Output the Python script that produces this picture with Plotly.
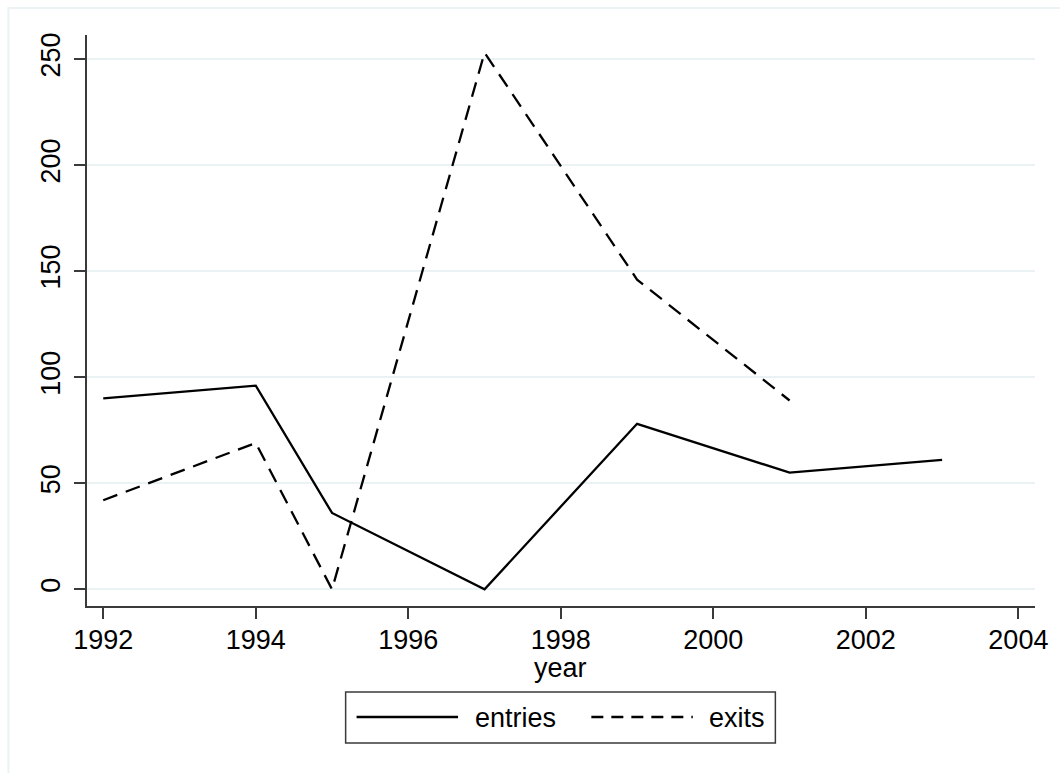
import plotly.graph_objects as go

# Firm entries and exits by year
years_entries = [1992, 1994, 1995, 1997, 1999, 2001, 2003]
entries = [90, 96, 36, 0, 78, 55, 61]

years_exits = [1992, 1994, 1995, 1997, 1999, 2001]
exits = [42, 69, 0, 253, 146, 89]

x_ticks = [1992, 1994, 1996, 1998, 2000, 2002, 2004]
y_ticks = [0, 50, 100, 150, 200, 250]

series_names = ["entries", "exits"]

FONT = "Liberation Sans, Arial, Helvetica, sans-serif"
FS = 27
AXIS_COLOR = "#3a3a3a"
GRID_COLOR = "#eaf2f3"
DASH = "15px,9px"

# plot area in pixels
L, R, T, B = 87, 1040, 35, 606
W, H = R - L, B - T


def px(x):
    return (x - L) / W


def py(y):
    return (B - y) / H


fig = go.Figure()
fig.add_trace(go.Scatter(
    x=years_entries, y=entries, name=series_names[0], mode="lines",
    line=dict(color="black", width=2.3, dash="solid"),
))
fig.add_trace(go.Scatter(
    x=years_exits, y=exits, name=series_names[1], mode="lines",
    line=dict(color="black", width=2.3, dash=DASH),
))

shapes = [
    # outer graph region frame
    dict(type="rect", xref="paper", yref="paper",
         x0=px(8), x1=px(1075), y0=py(790), y1=py(8),
         line=dict(color=GRID_COLOR, width=2), fillcolor="rgba(0,0,0,0)",
         layer="below"),
    # legend box
    dict(type="rect", xref="paper", yref="paper",
         x0=px(347), x1=px(779), y0=py(743), y1=py(692),
         line=dict(color=AXIS_COLOR, width=1.5), fillcolor="white"),
    # legend keys
    dict(type="line", xref="paper", yref="paper",
         x0=px(358), x1=px(460), y0=py(717), y1=py(717),
         line=dict(color="black", width=2.3)),
    dict(type="line", xref="paper", yref="paper",
         x0=px(594), x1=px(696), y0=py(717), y1=py(717),
         line=dict(color="black", width=2.3, dash="12px,8px")),
]

annotations = [
    dict(text="year", xref="paper", yref="paper", x=px(563), y=py(668),
         xanchor="center", yanchor="middle", showarrow=False,
         font=dict(family=FONT, size=FS, color="black")),
    dict(text=series_names[0], xref="paper", yref="paper", x=px(475), y=py(718),
         xanchor="left", yanchor="middle", showarrow=False,
         font=dict(family=FONT, size=FS, color="black")),
    dict(text=series_names[1], xref="paper", yref="paper", x=px(710), y=py(718),
         xanchor="left", yanchor="middle", showarrow=False,
         font=dict(family=FONT, size=FS, color="black")),
]

fig.update_layout(
    width=1060, height=773,
    margin=dict(l=L, r=1060 - R, t=T, b=773 - B, pad=0),
    paper_bgcolor="white", plot_bgcolor="white",
    font=dict(family=FONT, size=FS, color="black"),
    showlegend=False,
    shapes=shapes,
    annotations=annotations,
)

fig.update_xaxes(
    range=[1991.787, 2004.218], tickvals=x_ticks,
    showgrid=False, zeroline=False,
    showline=True, linecolor=AXIS_COLOR, linewidth=1.5,
    ticks="outside", ticklen=11, tickwidth=1.5, tickcolor=AXIS_COLOR,
    tickfont=dict(family=FONT, size=FS, color="black"),
    ticklabelstandoff=-2,
)
fig.update_yaxes(
    range=[-7.87, 261.3], tickvals=y_ticks, tickangle=-90,
    showgrid=True, gridcolor=GRID_COLOR, gridwidth=2, zeroline=False,
    showline=True, linecolor=AXIS_COLOR, linewidth=1.5,
    ticks="outside", ticklen=11, tickwidth=1.5, tickcolor=AXIS_COLOR,
    tickfont=dict(family=FONT, size=FS, color="black"),
    ticklabelstandoff=3,
)

fig.write_html("out.html")
